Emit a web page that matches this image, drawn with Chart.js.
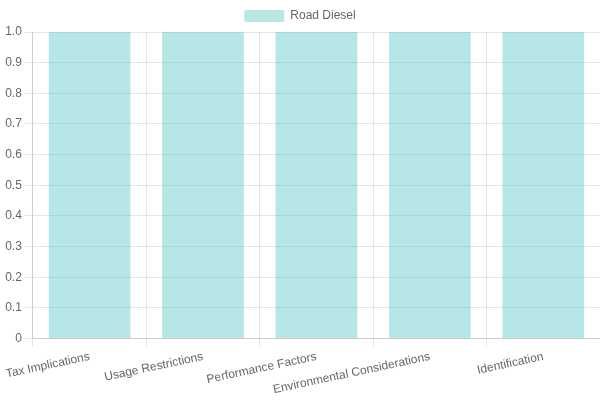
<!DOCTYPE html>
<html>
<head>
<meta charset="utf-8">
<script src="https://cdn.jsdelivr.net/npm/chart.js@4"></script>
<style>
  html, body { margin: 0; padding: 0; background: #fff; }
  #wrap { width: 600px; height: 400px; }
</style>
</head>
<body>
<div id="wrap"><canvas id="chart"></canvas></div>
<script>
// Chart data
const categories = ['Tax Implications', 'Usage Restrictions', 'Performance Factors', 'Environmental Considerations', 'Identification'];
const roadDiesel = [1, 1, 1, 1, 1];

Chart.defaults.font.family = "'Liberation Sans', Arial, sans-serif";

new Chart(document.getElementById('chart'), {
  type: 'bar',
  data: {
    labels: categories,
    datasets: [{
      label: 'Road Diesel',
      data: roadDiesel,
      backgroundColor: 'rgba(75, 192, 192, 0.4)',
      borderWidth: 0
    }]
  },
  options: {
    responsive: true,
    maintainAspectRatio: false,
    animation: false,
    scales: {
      y: { beginAtZero: true, max: 1, ticks: { stepSize: 0.1 } }
    }
  }
});
</script>
</body>
</html>
